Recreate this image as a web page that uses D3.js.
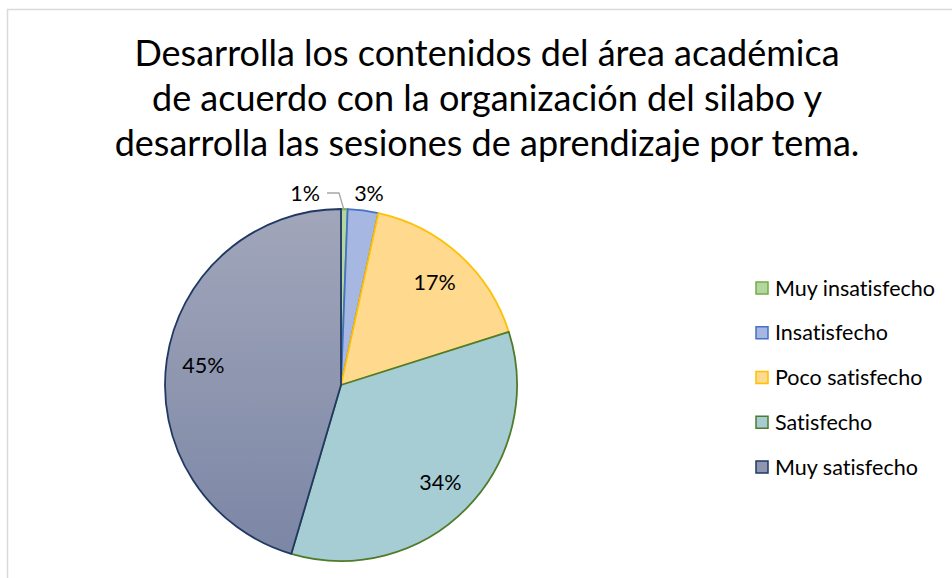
<!DOCTYPE html>
<html>
<head>
<meta charset="utf-8">
<script src="https://cdn.jsdelivr.net/npm/d3@7"></script>
<style>
  body { margin: 0; background: #fff; }
  text { font-family: Lato, "Open Sans", sans-serif; fill: #000; font-variant-ligatures: none; }
</style>
</head>
<body>
<svg width="952" height="578"></svg>
<script>
var svg = d3.select("svg"),
    width = +svg.attr("width"),
    height = +svg.attr("height");

// data
const titleLines = [
  "Desarrolla los contenidos del área académica",
  "de acuerdo con la organización del silabo y",
  "desarrolla las sesiones de aprendizaje por tema."
];
const categories = ["Muy insatisfecho", "Insatisfecho", "Poco satisfecho", "Satisfecho", "Muy satisfecho"];
const values = [0.6, 2.8, 16.7, 34.4, 45.4];
const fills = ["#b4d7a1", "#a6b7e1", "#fed98e", "#a6cdd4", "url(#gradMuy)"];
const strokes = ["#70ad47", "#4472c4", "#ffc000", "#4f7b2a", "#203864"];

// chart frame
svg.append("path")
  .attr("d", "M7.5," + height + "V9.5H" + width)
  .attr("fill", "none")
  .attr("stroke", "#d9d9d9")
  .attr("stroke-width", 1.5);

// gradient for the big slice
var grad = svg.append("defs").append("linearGradient")
  .attr("id", "gradMuy")
  .attr("gradientUnits", "userSpaceOnUse")
  .attr("x1", 0).attr("y1", -176).attr("x2", 0).attr("y2", 176);
grad.append("stop").attr("offset", "0%").attr("stop-color", "#a1a6ba");
grad.append("stop").attr("offset", "100%").attr("stop-color", "#7b86a5");

// title
svg.append("g").selectAll("text")
  .data(titleLines)
  .enter().append("text")
  .attr("x", 487)
  .attr("y", (d, i) => 66 + i * 45)
  .attr("text-anchor", "middle")
  .attr("font-size", "36px")
  .text(d => d);

// pie
var radius = 176;
var g = svg.append("g").attr("transform", "translate(341,385)");

var pie = d3.pie().sort(null).value(d => d);
var arc = d3.arc().innerRadius(0).outerRadius(radius);
var arcs = pie(values);

g.selectAll("path")
  .data(arcs)
  .enter().append("path")
  .attr("d", arc)
  .attr("fill", (d, i) => fills[i])
  .attr("stroke", (d, i) => strokes[i])
  .attr("stroke-width", 1.8)
  .attr("stroke-linejoin", "round");

// labels: inside for large slices, outside for the two small ones
var labelArc = d3.arc().innerRadius(radius * 0.79).outerRadius(radius * 0.79);
var fmt = v => Math.round(v) + "%";

g.selectAll("text.inner")
  .data(arcs.filter(d => d.value > 10))
  .enter().append("text")
  .attr("class", "inner")
  .attr("transform", d => "translate(" + labelArc.centroid(d) + ")")
  .attr("text-anchor", "middle")
  .attr("dy", "0.35em")
  .attr("font-size", "21.5px")
  .text(d => fmt(d.value));

// small slices
var outerPos = [[-36, -192], [28, -192]];
arcs.slice(0, 2).forEach(function (d, i) {
  g.append("text")
    .attr("x", outerPos[i][0])
    .attr("y", outerPos[i][1])
    .attr("text-anchor", "middle")
    .attr("dy", "0.35em")
    .attr("font-size", "21.5px")
    .text(fmt(d.value));
});

// leader line for the 1% slice
var a0 = (arcs[0].startAngle + arcs[0].endAngle) / 2;
var tip0 = [Math.sin(a0) * (radius - 2), -Math.cos(a0) * (radius - 2)];
g.append("polyline")
  .attr("points", [[-14, -192], [-2, -192], tip0].join(" "))
  .attr("fill", "none")
  .attr("stroke", "#a6a6a6")
  .attr("stroke-width", 1.3);

// legend
var y = d3.scalePoint().domain(categories).range([288, 467]);
var leg = svg.append("g").attr("class", "legend");
var item = leg.selectAll("g")
  .data(categories)
  .enter().append("g")
  .attr("transform", d => "translate(756," + y(d) + ")");

item.append("rect")
  .attr("x", 0).attr("y", -6)
  .attr("width", 12).attr("height", 12)
  .attr("fill", (d, i) => i === 4 ? "#8e96b0" : fills[i])
  .attr("stroke", (d, i) => strokes[i])
  .attr("stroke-width", 1.5);

item.append("text")
  .attr("x", 19)
  .attr("dy", "0.35em")
  .attr("font-size", "21.5px")
  .text(d => d);
</script>
</body>
</html>
